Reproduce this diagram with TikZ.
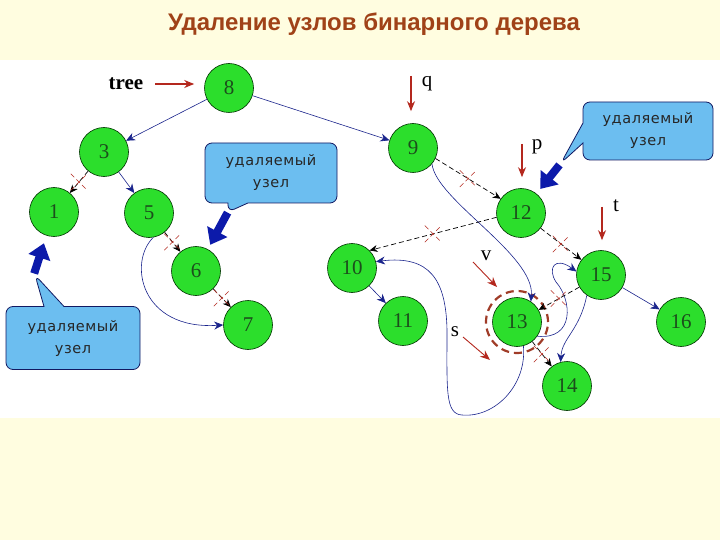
\documentclass[tikz,border=0pt]{standalone}
\usepackage{fontspec}
\setmainfont{Liberation Serif}
\newfontfamily\headfont{Liberation Sans}
\newfontfamily\notefont{DejaVu Sans}[LetterSpace=4.0]
\usetikzlibrary{shapes, shapes.callouts, shapes.misc, arrows.meta, calc}

\definecolor{cream}{RGB}{255,253,224}
\definecolor{headbrown}{RGB}{160,66,24}
\definecolor{leafgreen}{RGB}{44,222,44}
\definecolor{digitgreen}{RGB}{28,78,28}
\definecolor{linkblue}{RGB}{26,36,140}
\definecolor{ptrred}{RGB}{180,40,30}
\definecolor{ringred}{RGB}{160,60,40}
\definecolor{noteblue}{RGB}{108,190,240}
\definecolor{fatblue}{RGB}{12,26,170}

\begin{document}
\begin{tikzpicture}[x=1pt, y=1pt,
  tnode/.style={circle, draw=black!80!green, line width=0.6pt, fill=leafgreen, minimum size=49pt, inner sep=0pt, font=\fontsize{21}{21}\selectfont, text=digitgreen},
  link/.style={draw=linkblue, line width=0.6pt, -{Stealth[length=9pt,width=8pt]}},
  cutlink/.style={black, line width=0.7pt, dash pattern=on 5pt off 3pt, -{Stealth[length=8pt,width=7pt]}},
  xmark/.style={cross out, draw=ptrred, line width=0.5pt, minimum size=16pt, inner sep=0pt},
  ptr/.style={draw=ptrred, line width=1.3pt, -{Stealth[length=10pt,width=8pt]}},
  thinptr/.style={ptr, line width=0.9pt},
  lbl/.style={font=\fontsize{21}{21}\selectfont, inner sep=0pt},
  note/.style={rectangle callout, rounded corners=7pt, callout pointer width=20pt, draw=linkblue!70!black, line width=0.8pt, fill=noteblue, font=\notefont\fontsize{14.5}{22}\selectfont, text=black!85, align=center, minimum width=132pt, minimum height=60pt, inner sep=0pt},
  fatarrow/.style={draw=fatblue, line width=8pt, -{Triangle[length=15pt,width=22pt]}},
  ring/.style={circle, draw=ringred, line width=2.2pt, dash pattern=on 8pt off 5pt, minimum size=62pt}]

\fill[cream] (0,0) rectangle (720,-540);
\fill[white] (0,-60) rectangle (720,-418);
\useasboundingbox (0,0) rectangle (720,-540);

\node[font=\headfont\bfseries\fontsize{24}{26}\selectfont, text=headbrown] (head) at (374,-24) {Удаление узлов бинарного дерева};

\node[tnode] (n8) at (229,-88) {8};
\node[tnode] (n3) at (104,-152) {3};
\node[tnode] (n1) at (54,-212) {1};
\node[tnode] (n5) at (149,-213) {5};
\node[tnode] (n6) at (196,-271) {6};
\node[tnode] (n7) at (248,-325) {7};
\node[tnode] (n9) at (413,-148) {9};
\node[tnode] (n12) at (521,-213) {12};
\node[tnode] (n10) at (352,-268) {10};
\node[tnode] (n11) at (403,-321) {11};
\node[tnode] (n13) at (517,-322) {13};
\node[tnode] (n15) at (601,-275) {15};
\node[tnode] (n16) at (681,-322) {16};
\node[tnode] (n14) at (567,-386) {14};
\node[ring] (ring) at (n13) {};

\draw[link] (n8) -- (n3);
\draw[link] (n8) -- (n9);
\draw[link] (n3) -- (n5);
\draw[link] (n10) -- (n11);
\draw[link] (n15) -- (n16);
\draw[link] (n5.-80) .. controls (128,-262) and (140,-330) .. (n7.west);
\draw[link] (n9.-40) .. controls (436,-200) and (535,-255) .. (n13.56);
\draw[link] (n13.-75) .. controls (527,-385) and (495,-418) .. (462,-415)
  .. controls (445,-414) and (447,-390) .. (447,-330)
  .. controls (446,-280) and (430,-255) .. (n10.15);
\draw[link] (n13.-35) .. controls (575,-340) and (572,-300) .. (556,-282)
  .. controls (547,-268) and (555,-256) .. (n15.172);
\draw[link] (n15.-125) .. controls (580,-330) and (562,-338) .. (n14.105);

\draw[cutlink] (n3) -- node[xmark]{} (n1);
\draw[cutlink] (n5) -- node[xmark]{} (n6);
\draw[cutlink] (n6) -- node[xmark]{} (n7);
\draw[cutlink] (n9.-25) -- node[xmark]{} (n12.145);
\draw[cutlink] (n12.190) -- node[xmark]{} (n10.45);
\draw[cutlink] (n12) -- node[xmark]{} (n15);
\draw[cutlink] (n15) -- node[xmark]{} (n13);
\draw[cutlink] (n13) -- node[xmark]{} (n14);

\node[lbl, font=\bfseries\fontsize{21}{21}\selectfont] (tree) at (126,-84) {tree};
\draw[ptr, shorten <=12pt, shorten >=10pt] (tree.east) -- (tree.east -| n8.west);
\node[lbl] (q) at (427,-84) {q};
\coordinate (qa) at (411,-76);
\draw[ptr, shorten >=12pt] (qa) -- (qa |- n9.north);
\node[lbl] (p) at (537,-147) {p};
\coordinate (pa) at (522,-144);
\draw[ptr, shorten >=11pt] (pa) -- (pa |- n12.north);
\node[lbl] (t) at (616,-206) {t};
\coordinate (ta) at (602,-207);
\draw[ptr, shorten >=10pt] (ta) -- (ta |- n15.north);
\node[lbl] (v) at (486,-256) {v};
\coordinate (va) at (473,-262);
\coordinate (vb) at (497,-287);
\draw[thinptr] (va) -- (vb);
\node[lbl] (s) at (455,-332) {s};
\coordinate (sa) at (463,-337);
\coordinate (sb) at (490,-360);
\draw[thinptr] (sa) -- (sb);

\node[note, callout absolute pointer={(228,-212)}] (c6) at (271,-173) {удаляемый\\узел};
\node[note, minimum width=130pt, minimum height=58pt, callout absolute pointer={(561,-163)}] (c12) at (648,-131) {удаляемый\\узел};
\node[note, minimum width=134pt, minimum height=63pt, callout absolute pointer={(35,-275)}] (c1) at (73,-338) {удаляемый\\узел};
\draw[fatarrow, shorten >=5pt] (c6.pointer) -- (n6);
\draw[fatarrow, shorten >=6pt] (c12.pointer) -- (n12);
\draw[fatarrow, shorten >=8pt] (c1.pointer) -- (n1);

\end{tikzpicture}
\end{document}
